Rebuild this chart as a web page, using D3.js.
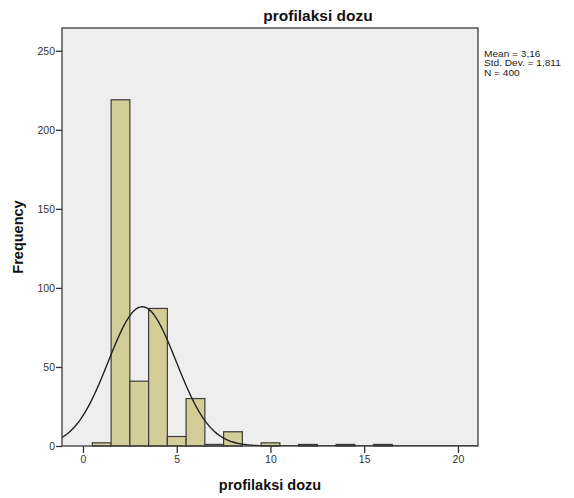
<!DOCTYPE html>
<html>
<head>
<meta charset="utf-8">
<script src="https://cdn.jsdelivr.net/npm/d3@7"></script>
<style>
	body { margin: 0; background: #fff; }
	text { font-family: "Liberation Sans", Arial, sans-serif; }
</style>
</head>
<body>
<div id="chart"></div>
<script>

///////////////////////////////////////////////////////////////////////////
//////////////////////////////// Data /////////////////////////////////////
///////////////////////////////////////////////////////////////////////////

//Bin centres (bin width 1) and the counts
var binCenters = [1, 2, 3, 4, 5, 6, 7, 8, 10, 12, 14, 16];
var binCounts  = [2, 219, 41, 87, 6, 30, 1, 9, 2, 1, 1, 1];
var binWidth = 1;

var statMean = 3.16,
	statSd = 1.811,
	statN = 400;
var statLabels = ["Mean = 3,16", "Std. Dev. = 1,811", "N = 400"];

var xTicks = [0, 5, 10, 15, 20];
var yTicks = [0, 50, 100, 150, 200, 250];

var titleText = "profilaksi dozu",
	xLabel = "profilaksi dozu",
	yLabel = "Frequency";

///////////////////////////////////////////////////////////////////////////
//////////////////////////// Set up the svg ///////////////////////////////
///////////////////////////////////////////////////////////////////////////

var width = 574,
	height = 498;
var plot = { left: 62, right: 478, top: 28, bottom: 446 };

var svg = d3.select("#chart").append("svg")
	.attr("width", width)
	.attr("height", height);

var x = d3.scaleLinear()
	.domain([-1.12, 21.07])
	.range([plot.left, plot.right]);

var y = d3.scaleLinear()
	.domain([0, 264.4])
	.range([plot.bottom, plot.top]);

//Plot background
svg.append("rect")
	.attr("x", plot.left)
	.attr("y", plot.top)
	.attr("width", plot.right - plot.left)
	.attr("height", plot.bottom - plot.top)
	.style("fill", "#eeeeee");

svg.append("defs").append("clipPath")
	.attr("id", "plotClip")
	.append("rect")
	.attr("x", plot.left)
	.attr("y", plot.top)
	.attr("width", plot.right - plot.left)
	.attr("height", plot.bottom - plot.top);

///////////////////////////////////////////////////////////////////////////
//////////////////////////////// Bars /////////////////////////////////////
///////////////////////////////////////////////////////////////////////////

var bins = binCenters.map(function(c, i) { return { c: c, n: binCounts[i] }; });

svg.append("g").selectAll(".bar")
	.data(bins)
	.enter().append("rect")
	.attr("class", "bar")
	.attr("x", function(d) { return x(d.c - binWidth/2); })
	.attr("y", function(d) { return y(d.n); })
	.attr("width", function(d) { return x(d.c + binWidth/2) - x(d.c - binWidth/2); })
	.attr("height", function(d) { return y(0) - y(d.n); })
	.style("fill", "#d3ce97")
	.style("stroke", "#3c3c3c")
	.style("stroke-width", 1.2);

///////////////////////////////////////////////////////////////////////////
///////////////////////////// Normal curve ////////////////////////////////
///////////////////////////////////////////////////////////////////////////

var curveX = d3.range(x.domain()[0], x.domain()[1], 0.05);
var line = d3.line()
	.x(function(d) { return x(d); })
	.y(function(d) {
		var z = (d - statMean) / statSd;
		return y(statN * binWidth * Math.exp(-0.5*z*z) / (statSd * Math.sqrt(2*Math.PI)));
	})
	.curve(d3.curveBasis);

svg.append("path")
	.datum(curveX)
	.attr("clip-path", "url(#plotClip)")
	.attr("d", line)
	.style("fill", "none")
	.style("stroke", "#222")
	.style("stroke-width", 1.4);

//Plot frame
svg.append("rect")
	.attr("x", plot.left)
	.attr("y", plot.top)
	.attr("width", plot.right - plot.left)
	.attr("height", plot.bottom - plot.top)
	.style("fill", "none")
	.style("stroke", "#3a3a3a")
	.style("stroke-width", 1.3);

///////////////////////////////////////////////////////////////////////////
//////////////////////////////// Axes /////////////////////////////////////
///////////////////////////////////////////////////////////////////////////

var xAxis = svg.append("g")
	.attr("transform", "translate(0," + plot.bottom + ")")
	.call(d3.axisBottom(x).tickValues(xTicks).tickSize(7).tickPadding(3));

var yAxis = svg.append("g")
	.attr("transform", "translate(" + plot.left + ",0)")
	.call(d3.axisLeft(y).tickValues(yTicks).tickSize(6).tickPadding(1));

[xAxis, yAxis].forEach(function(a) {
	a.select(".domain").remove();
	a.selectAll("line").style("stroke", "#333").style("stroke-width", 1.3);
	a.selectAll("text")
		.style("font-size", "10.5px")
		.style("font-family", "'Liberation Sans', Arial, sans-serif")
		.style("fill", "#333");
});

///////////////////////////////////////////////////////////////////////////
//////////////////////////////// Texts ////////////////////////////////////
///////////////////////////////////////////////////////////////////////////

svg.append("text")
	.attr("x", 318)
	.attr("y", 21)
	.attr("text-anchor", "middle")
	.style("font-size", "15.5px")
	.style("font-weight", "bold")
	.style("fill", "#111")
	.text(titleText);

svg.append("text")
	.attr("x", (plot.left + plot.right)/2)
	.attr("y", 490)
	.attr("text-anchor", "middle")
	.style("font-size", "14.5px")
	.style("font-weight", "bold")
	.style("fill", "#111")
	.text(xLabel);

svg.append("text")
	.attr("transform", "translate(23," + ((plot.top + plot.bottom)/2) + ") rotate(-90)")
	.attr("text-anchor", "middle")
	.style("font-size", "14.5px")
	.style("font-weight", "bold")
	.style("fill", "#111")
	.text(yLabel);

//Stats block, a little stretched sideways like the original rendering
var statGroup = svg.append("g")
	.attr("transform", "translate(484,0) scale(1.15,1)");

statGroup.selectAll(".stat")
	.data(statLabels)
	.enter().append("text")
	.attr("class", "stat")
	.attr("x", 0)
	.attr("y", function(d, i) { return 57.3 + i*9.2; })
	.style("font-size", "8.8px")
	.style("fill", "#222")
	.text(function(d) { return d; });

</script>
</body>
</html>
